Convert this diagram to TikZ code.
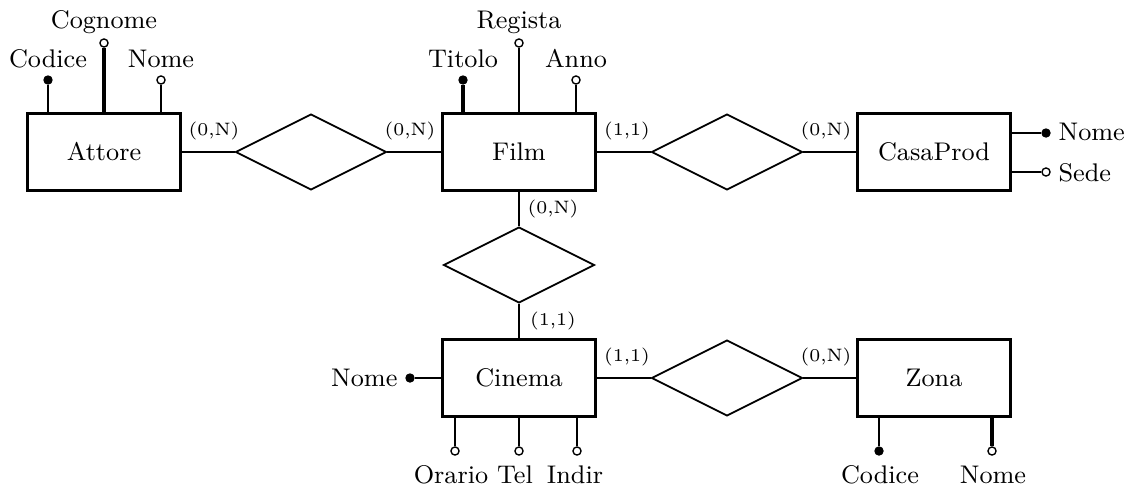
\documentclass[tikz,border=0pt]{standalone}
\usetikzlibrary{shapes.geometric}
\begin{document}
\begin{tikzpicture}[x=0.3333pt,y=-0.3333pt,
  ent/.style={draw,line width=1pt,minimum width=50.7pt,minimum height=25.7pt,inner sep=0pt,font=\fontsize{8.5}{10}\selectfont},
  rel/.style={draw,line width=0.6pt,diamond,minimum width=50.3pt,minimum height=25.3pt,inner sep=0pt},
  conn/.style={line width=0.85pt},
  attrline/.style={line width=0.85pt},
  keyc/.style={circle,fill=black,draw,line width=0.4pt,minimum size=2.7pt,inner sep=0pt},
  optc/.style={circle,fill=white,draw,line width=0.45pt,minimum size=2.7pt,inner sep=0pt},
  lab/.style={inner sep=0pt,font=\fontsize{8.5}{10}\selectfont},
  card/.style={inner sep=0pt,font=\fontsize{6}{7}\selectfont}]
\useasboundingbox (0,0) rectangle (1131,486);

% entities
\node[ent] (attore) at (104,152) {Attore};
\node[ent] (film) at (519,152) {Film};
\node[ent] (casa) at (934,152) {CasaProd};
\node[ent] (cinema) at (519,378) {Cinema};
\node[ent] (zona) at (934,378) {Zona};

% relationships
\node[rel] (r1) at (311,152) {};
\node[rel] (r2) at (727,152) {};
\node[rel] (r3) at (519,265) {};
\node[rel] (r4) at (727,378) {};

% connectors
\draw[conn] (attore.east) -- (r1.west);
\draw[conn] (r1.east) -- (film.west);
\draw[conn] (film.east) -- (r2.west);
\draw[conn] (r2.east) -- (casa.west);
\draw[conn] (film.south) -- (r3.north);
\draw[conn] (r3.south) -- (cinema.north);
\draw[conn] (cinema.east) -- (r4.west);
\draw[conn] (r4.east) -- (zona.west);

% cardinalities
\node[card] (c1) at (214,131) {(0,N)};
\node[card] (c2) at (410,131) {(0,N)};
\node[card] (c3) at (627,131) {(1,1)};
\node[card] (c4) at (826,131) {(0,N)};
\node[card] (c5) at (553,209) {(0,N)};
\node[card] (c6) at (553,321) {(1,1)};
\node[card] (c7) at (627,357) {(1,1)};
\node[card] (c8) at (826,357) {(0,N)};

% Attore attributes
\node[keyc] (aco) at (48,80) {};
\node[optc] (acg) at (104,43) {};
\node[optc] (ano) at (161,80) {};
\draw[attrline] (attore.north -| aco) -- (aco);
\draw[attrline,line width=1.1pt] (attore.north -| acg) -- (acg);
\draw[attrline] (attore.north -| ano) -- (ano);
\node[lab,anchor=base] (lco) at (48,67) {Codice};
\node[lab,anchor=base] (lcg) at (104,28) {Cognome};
\node[lab,anchor=base] (lno) at (161,67) {Nome};

% Film attributes
\node[keyc] (fti) at (463,80) {};
\node[optc] (fre) at (519,43) {};
\node[optc] (fan) at (576,80) {};
\draw[attrline,line width=1.1pt] (film.north -| fti) -- (fti);
\draw[attrline] (film.north -| fre) -- (fre);
\draw[attrline] (film.north -| fan) -- (fan);
\node[lab,anchor=base] (lti) at (463,67) {Titolo};
\node[lab,anchor=base] (lre) at (519,28) {Regista};
\node[lab,anchor=base] (lan) at (576,67) {Anno};

% CasaProd attributes
\node[keyc] (cno) at (1046,133) {};
\node[optc] (cse) at (1046,172) {};
\draw[attrline] (casa.east |- cno) -- (cno);
\draw[attrline] (casa.east |- cse) -- (cse);
\node[lab,anchor=base west] (lcno) at (1058,140) {Nome};
\node[lab,anchor=base west] (lcse) at (1058,181) {Sede};

% Cinema attributes
\node[keyc] (ino) at (410,378) {};
\draw[attrline] (cinema.west |- ino) -- (ino);
\node[lab,anchor=base east] (lino) at (398,386) {Nome};
\node[optc] (ior) at (455,451) {};
\node[optc] (ite) at (519,451) {};
\node[optc] (iin) at (577,451) {};
\draw[attrline] (cinema.south -| ior) -- (ior);
\draw[attrline] (cinema.south -| ite) -- (ite);
\draw[attrline] (cinema.south -| iin) -- (iin);
\node[lab,anchor=base] (lior) at (451,483) {Orario};
\node[lab,anchor=base] (lite) at (515,483) {Tel};
\node[lab,anchor=base] (liin) at (575,483) {Indir};

% Zona attributes
\node[keyc] (zco) at (879,451) {};
\node[optc] (zno) at (992,451) {};
\draw[attrline] (zona.south -| zco) -- (zco);
\draw[attrline,line width=1.1pt] (zona.south -| zno) -- (zno);
\node[lab,anchor=base] (lzco) at (880,483) {Codice};
\node[lab,anchor=base] (lzno) at (993,483) {Nome};
\end{tikzpicture}
\end{document}
